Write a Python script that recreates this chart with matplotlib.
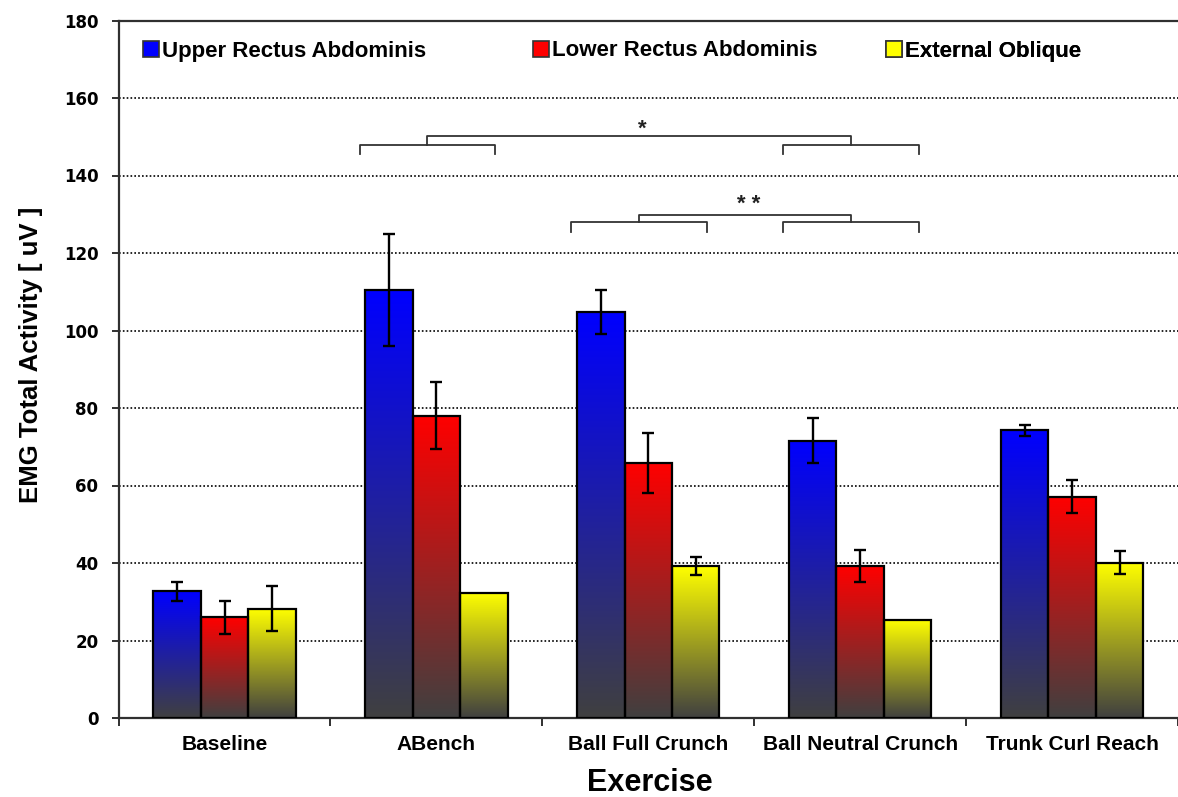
import numpy as np
import matplotlib
matplotlib.use("Agg")
import matplotlib.pyplot as plt
from matplotlib.patches import Patch
from matplotlib.colors import to_rgb

# ---------------- data ----------------
categories = ['Baseline', 'ABench', 'Ball Full Crunch', 'Ball Neutral Crunch', 'Trunk Curl Reach']
series_names = ['Upper Rectus Abdominis', 'Lower Rectus Abdominis', 'External Oblique']
upper = [32.7, 110.4, 104.7, 71.6, 74.3]
upper_err = [2.4, 14.4, 5.7, 5.9, 1.4]
lower = [26.0, 78.0, 65.8, 39.2, 57.1]
lower_err = [4.2, 8.6, 7.7, 4.2, 4.2]
oblique = [28.2, 32.3, 39.2, 25.4, 40.1]
oblique_err = [5.8, None, 2.4, None, 2.9]
y_ticks = [0, 20, 40, 60, 80, 100, 120, 140, 160, 180]

# significance brackets: (left group, right group, sub-bracket y, top y, label, label y)
sig_brackets = [
    (1, 3, 148.0, 150.1, '*', 152.0),
    (2, 3, 127.9, 129.8, '* *', 132.6),
]

colors = ['#0000FF', '#FF0000', '#FFFF00']
bottom_color = np.array([0.25, 0.25, 0.25])

W, H = 1178, 797
fig = plt.figure(figsize=(W / 100, H / 100), dpi=100)
ax_left, ax_right, ax_bottom, ax_top = 118.6, 1178.0, 718.0, 20.5
ax = fig.add_axes([ax_left / W, (H - ax_bottom) / H, (ax_right - ax_left) / W, (ax_bottom - ax_top) / H])

cat_px = 213.4
x_right = -0.5 + (ax_right - ax_left) / cat_px
bw = 0.224
x = np.arange(len(categories))

all_vals = [upper, lower, oblique]
all_errs = [upper_err, lower_err, oblique_err]

ax.set_axisbelow(True)
ax.yaxis.grid(True, color='black', linestyle=(0, (1, 1.3)), linewidth=1.2, zorder=0)

grad = np.linspace(0, 1, 256)[:, None]
for k, (vals, errs, col) in enumerate(zip(all_vals, all_errs, colors)):
    pos = x + (k - 1) * bw
    bars = ax.bar(pos, vals, width=bw, facecolor='none', edgecolor='black', linewidth=1.6, zorder=3)
    top = np.array(to_rgb(col))
    img = (bottom_color + (top - bottom_color) * grad).reshape(256, 1, 3)
    for rect in bars:
        bx, by, bwid, bh = rect.get_x(), rect.get_y(), rect.get_width(), rect.get_height()
        im = ax.imshow(img, extent=[bx, bx + bwid, by, by + bh], origin='lower',
                       aspect='auto', interpolation='bilinear', zorder=2)
        im.set_clip_path(rect)
    ex = [p for p, e in zip(pos, errs) if e is not None]
    ey = [v for v, e in zip(vals, errs) if e is not None]
    ee = [e for e in errs if e is not None]
    ax.errorbar(ex, ey, yerr=ee, fmt='none', ecolor='black', elinewidth=1.7,
                capsize=4.0, capthick=1.7, zorder=4)

ax.set_xlim(-0.5, x_right)
ax.set_ylim(0, 180)

# significance brackets
br_col = '#333333'
left_off, right_off, joint_off = -0.363, 0.277, -0.043
for g1, g2, ysub, ytop, lab, ylab in sig_brackets:
    leg = ysub - 2.5
    joints = []
    for g in (g1, g2):
        xl, xr, xj = g + left_off, g + right_off, g + joint_off
        ax.plot([xl, xl, xr, xr], [leg, ysub, ysub, leg], color=br_col, lw=1.3, zorder=5)
        joints.append(xj)
    ax.plot([joints[0], joints[0], joints[1], joints[1]], [ysub, ytop, ytop, ysub],
            color=br_col, lw=1.3, zorder=5)
    ax.text((joints[0] + joints[1]) / 2 + 0.015, ylab, lab, ha='center', va='center',
            fontsize=16, fontweight='bold', family='Liberation Sans', color='#222222')

# axes styling
ax.spines['right'].set_visible(False)
for s in ['left', 'bottom', 'top']:
    ax.spines[s].set_color('#303030')
    ax.spines[s].set_linewidth(1.6)

ax.set_yticks(y_ticks)
ax.set_yticklabels([str(v) for v in y_ticks], fontsize=12, fontweight='bold', family='DejaVu Sans')
ax.tick_params(axis='y', direction='out', length=5, width=1.4, color='#303030', pad=9.5)

ax.set_xticks(np.arange(-0.5, len(categories), 1.0))
ax.set_xticklabels([])
ax.set_xticks(x, minor=True)
ax.set_xticklabels(categories, minor=True, fontsize=15, fontweight='bold', family='Liberation Sans')
ax.tick_params(axis='x', which='major', direction='out', length=6, width=1.4, color='#303030')
ax.tick_params(axis='x', which='minor', length=0, pad=12)

ax.set_xlabel('Exercise', fontsize=22, fontweight='bold', family='Liberation Sans')
ax.xaxis.set_label_coords((650 - ax_left) / (ax_right - ax_left), -(783 - ax_bottom) / (ax_bottom - ax_top))
ax.xaxis.label.set_va('center')
ax.set_ylabel('EMG Total Activity [ uV ]', fontsize=18.5, fontweight='bold', family='Liberation Sans')
ax.yaxis.set_label_coords(-(ax_left - 31) / (ax_right - ax_left), (ax_bottom - 355) / (ax_bottom - ax_top))
ax.yaxis.label.set_va('center')

# legend, one entry per label, placed as in the original
leg_x_px = [143, 533, 886]
leg_y = (ax_bottom - 51) / (ax_bottom - ax_top)
for name, col, lx in zip(series_names, colors, leg_x_px):
    lg = ax.legend(handles=[Patch(facecolor=col, edgecolor='#333333', linewidth=1.2)], labels=[name],
                   loc='center left', bbox_to_anchor=((lx - ax_left) / (ax_right - ax_left), leg_y),
                   frameon=False, borderpad=0, borderaxespad=0, handlelength=0.7, handleheight=0.7,
                   handletextpad=0.15, prop={'family': 'Liberation Sans', 'weight': 'bold', 'size': 16})
    ax.add_artist(lg)

fig.savefig('out.png', dpi=100)
